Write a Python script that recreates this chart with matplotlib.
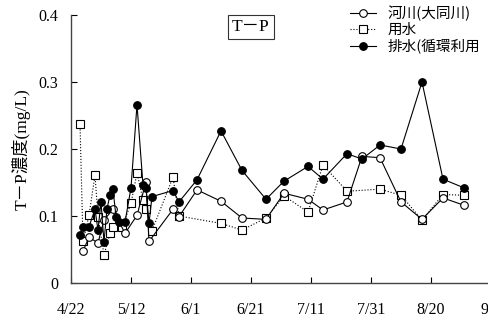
import matplotlib
matplotlib.use("Agg")
import matplotlib.pyplot as plt
import pandas as pd

YEAR = "2011/"

# 河川(大同川)
river_dates = ["4/26", "4/28", "5/1", "5/3", "5/6", "5/10", "5/14", "5/17", "5/18",
               "5/26", "5/28", "6/3", "6/11", "6/18", "6/26", "7/2", "7/10", "7/15",
               "7/23", "7/28", "8/3", "8/10", "8/17", "8/24", "8/31"]
river_vals = [0.048, 0.068, 0.060, 0.094, 0.110, 0.074, 0.101, 0.151, 0.062,
              0.110, 0.099, 0.139, 0.122, 0.097, 0.095, 0.134, 0.125, 0.109,
              0.121, 0.189, 0.187, 0.121, 0.095, 0.127, 0.116]

# 用水
irr_dates = ["4/25", "4/26", "4/28", "4/30", "5/1", "5/3", "5/5", "5/6", "5/9", "5/12",
             "5/14", "5/16", "5/17", "5/19", "5/26", "5/28", "6/11", "6/18", "6/26",
             "7/2", "7/10", "7/15", "7/23", "8/3", "8/10", "8/17", "8/24", "8/31"]
irr_vals = [0.238, 0.062, 0.101, 0.161, 0.099, 0.042, 0.074, 0.084, 0.083, 0.119,
            0.164, 0.124, 0.110, 0.078, 0.158, 0.100, 0.089, 0.079, 0.097,
            0.130, 0.106, 0.176, 0.137, 0.140, 0.131, 0.094, 0.132, 0.131]

# 排水(循環利用)
drain_dates = ["4/25", "4/26", "4/28", "4/30", "5/1", "5/2", "5/3", "5/4", "5/5", "5/6",
               "5/7", "5/8", "5/10", "5/12", "5/14", "5/16", "5/17", "5/18", "5/19",
               "5/26", "5/28", "6/3", "6/11", "6/18", "6/26", "7/2", "7/10", "7/15",
               "7/23", "7/28", "8/3", "8/10", "8/17", "8/24", "8/31"]
drain_vals = [0.071, 0.083, 0.084, 0.110, 0.079, 0.121, 0.061, 0.111, 0.131, 0.140,
              0.099, 0.091, 0.091, 0.142, 0.266, 0.146, 0.142, 0.089, 0.129,
              0.138, 0.121, 0.154, 0.227, 0.168, 0.125, 0.152, 0.174, 0.155,
              0.193, 0.185, 0.206, 0.200, 0.300, 0.155, 0.142]

x_tick_labels = ["4/22", "5/12", "6/1", "6/21", "7/11", "7/31", "8/20", "9/9"]
y_ticks = [0, 0.1, 0.2, 0.3, 0.4]
y_tick_labels = ["0", "0.1", "0.2", "0.3", "0.4"]


def to_dt(values):
    return pd.to_datetime([YEAR + v for v in values], format="%Y/%m/%d")


serif = ["Liberation Serif", "Noto Sans CJK JP"]
gothic = ["Noto Sans CJK JP", "DejaVu Sans"]

fig = plt.figure(figsize=(4.89, 3.24), dpi=100)
ax = fig.add_axes([71 / 489, 41 / 324, 423 / 489, 268 / 324])

line_kw = dict(color="black", linewidth=0.8, markersize=5.5, markeredgewidth=0.8)
ax.plot(to_dt(river_dates), river_vals, "-o", markerfacecolor="white",
        label="河川(大同川)", zorder=3, **line_kw)
ax.plot(to_dt(irr_dates), irr_vals, ":s", markerfacecolor="white",
        label="用水", zorder=2, **line_kw)
ax.plot(to_dt(drain_dates), drain_vals, "-o", markerfacecolor="black",
        label="排水(循環利用", zorder=4, **line_kw)

xt = to_dt(x_tick_labels)
ax.set_xlim(xt[0], xt[0] + pd.Timedelta(days=141))
ax.set_xticks(xt)
ax.set_xticklabels(x_tick_labels, fontfamily=serif, fontsize=11.5)
ax.set_ylim(0, 0.4)
ax.set_yticks(y_ticks)
ax.set_yticklabels(y_tick_labels, fontfamily=serif, fontsize=11.5)

ax.tick_params(axis="both", direction="in", length=4, width=0.8, colors="black")
ax.tick_params(axis="x", pad=14)
ax.tick_params(axis="y", pad=9)
for side in ("top", "right"):
    ax.spines[side].set_visible(False)
for side in ("left", "bottom"):
    ax.spines[side].set_color("#444444")
    ax.spines[side].set_linewidth(1.0)

ax.set_ylabel("T－P濃度(mg/L)", fontfamily=serif, fontsize=12.5, labelpad=6)

ax.text(0.425, 0.955, "T－P", transform=ax.transAxes, ha="center", va="center",
        fontfamily=serif, fontsize=12.5,
        bbox=dict(boxstyle="square,pad=0.25", facecolor="white", edgecolor="#333333",
                  linewidth=0.8))

leg = fig.legend(loc="upper left", bbox_to_anchor=(350 / 489, 1 - 6 / 324),
                 frameon=False, handlelength=1.75, handletextpad=0.85,
                 borderpad=0, borderaxespad=0, labelspacing=0.12,
                 prop={"family": gothic, "size": 10.5})

fig.savefig("out.png", dpi=100)
